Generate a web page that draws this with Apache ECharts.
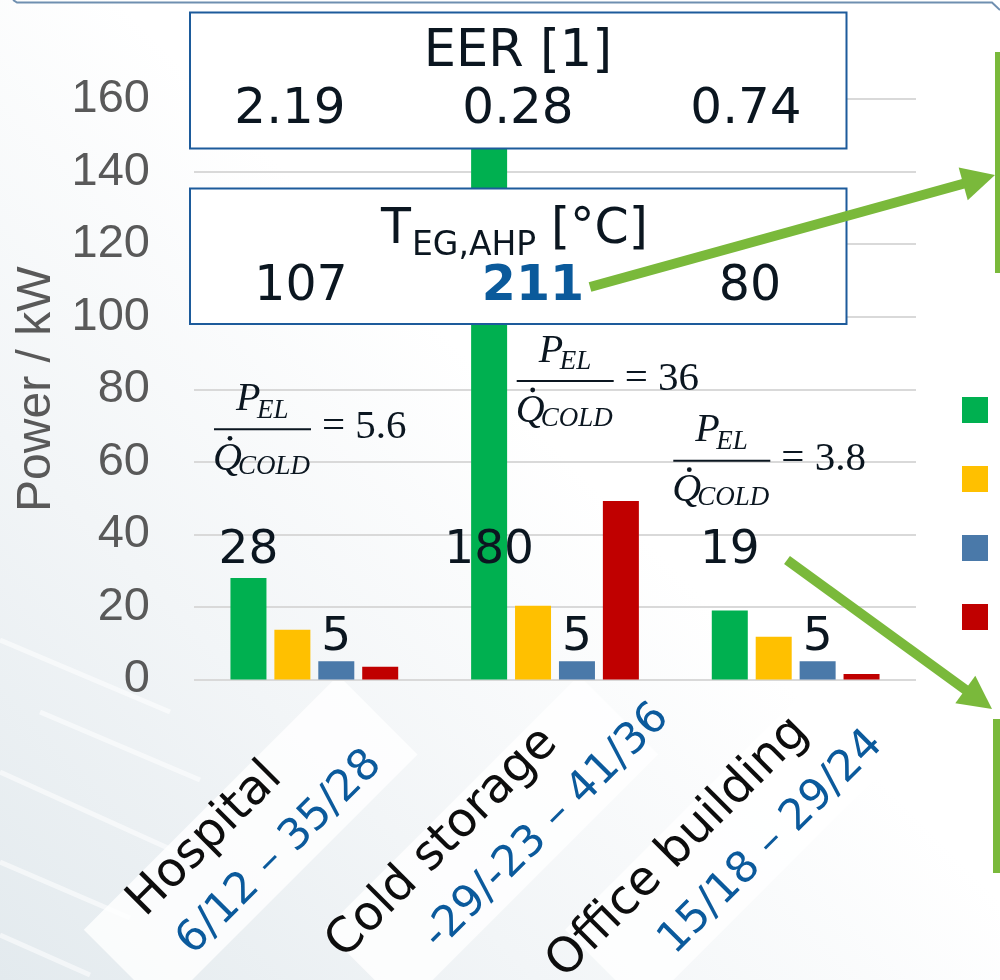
<!DOCTYPE html>
<html>
<head>
<meta charset="utf-8">
<title>Power per application</title>
<script src="https://cdn.jsdelivr.net/npm/echarts@6/dist/echarts.min.js"></script>
<style>
  html, body { margin: 0; padding: 0; background: #ffffff; }
  #chart { width: 1000px; height: 980px; }
</style>
</head>
<body>
<div id="chart"></div>
<script>
// ---- data -------------------------------------------------------------
const categories = ['Hospital', 'Cold storage', 'Office building'];
const temperatureLabels = ['6/12 – 35/28', '-29/-23 – 41/36', '15/18 – 29/24'];
const seriesNames = ['Q̇ COLD', 'Q̇ HEAT', 'P EL', 'Q̇ DRIVE'];
const coldPower = [28, 180, 19];
const heatPower = [13.7, 20.3, 11.8];
const electricPower = [5, 5, 5];
const drivePower = [3.5, 49.2, 1.5];
const eerValues = ['2.19', '0.28', '0.74'];
const exhaustTemps = ['107', '211', '80'];
const electricRatios = ['5.6', '36', '3.8'];
const yMin = 0, yMax = 160, yStep = 20;

// ---- styling ------------------------------------------------------------
const COLORS = ['#00b050', '#ffc000', '#4a79a9', '#c00000'];
const BOX_BLUE = '#1d5b9b';
const ARROW_GREEN = '#7ab93b';
const INK = '#0b1620';
const AXIS_GREY = '#595959';
const COLD_LABEL_LEVEL = 35.4;       // height at which the cooling values are written
const labelShift = [[146, 66], [97, 0], [82, 38]];   // right padding of the two label lines

const chart = echarts.init(document.getElementById('chart'), null, { renderer: 'canvas' });

const rich = {};
categories.forEach((c, i) => {
  rich['n' + i] = { fontFamily: 'DejaVu Sans', fontSize: 48, color: '#0d0d0d', lineHeight: 62,
                    align: 'right', padding: [0, labelShift[i][0], 0, 0] };
  rich['t' + i] = { fontFamily: 'DejaVu Sans', fontSize: 43, color: '#0b5a9c', lineHeight: 62,
                    align: 'right', padding: [0, labelShift[i][1], 0, 0] };
});

function barSeries(name, values, color, extra) {
  return Object.assign({
    name: name, type: 'bar', data: values, barWidth: 36, barGap: '22%', clip: true,
    itemStyle: { color: color }
  }, extra || {});
}

const option = {
  animation: false,
  backgroundColor: 'transparent',
  textStyle: { fontFamily: 'DejaVu Sans' },
  grid: { left: 194, right: 84, top: 99, bottom: 300.5, containLabel: false, outerBoundsMode: 'none' },
  legend: {
    orient: 'vertical', left: 962, top: 397, padding: 0,
    itemWidth: 26, itemHeight: 26, itemGap: 43, icon: 'rect',
    textStyle: { fontSize: 16, color: '#333', padding: [0, 0, 0, 40] },
    data: seriesNames
  },
  xAxis: {
    type: 'category', data: categories,
    axisLine: { show: false }, axisTick: { show: false }, splitLine: { show: false },
    axisLabel: {
      interval: 0, rotate: 45, align: 'right', verticalAlign: 'top',
      margin: -76, padding: [59, 0, 0, 0],
      formatter: (v, i) => '{n' + i + '|' + v + '}\n{t' + i + '|' + temperatureLabels[i] + '}',
      rich: rich
    }
  },
  yAxis: {
    type: 'value', min: yMin, max: yMax, interval: yStep,
    name: 'Power / kW', nameLocation: 'middle', nameGap: 133, nameRotate: 90,
    nameMoveOverlap: false,
    nameTextStyle: { fontFamily: 'Liberation Sans', fontSize: 48, color: AXIS_GREY },
    axisLine: { show: false }, axisTick: { show: false },
    axisLabel: { fontFamily: 'Liberation Sans', fontSize: 47, color: AXIS_GREY, margin: 44 },
    splitLine: { lineStyle: { color: '#d9d9d9', width: 2 } }
  },
  series: [
    barSeries(seriesNames[0], coldPower, COLORS[0], {
      markPoint: {
        symbol: 'rect', symbolSize: 1, silent: true,
        itemStyle: { color: 'rgba(0,0,0,0)' },
        label: { show: true, position: 'inside', formatter: '{c}',
                 fontFamily: 'DejaVu Sans', fontSize: 47, color: INK },
        data: coldPower.map((v, i) => ({ coord: [categories[i], COLD_LABEL_LEVEL], value: v }))
      }
    }),
    barSeries(seriesNames[1], heatPower, COLORS[1]),
    barSeries(seriesNames[2], electricPower, COLORS[2], {
      label: { show: true, position: 'top', distance: 0, formatter: '{c}',
               fontFamily: 'DejaVu Sans', fontSize: 47, color: INK }
    }),
    barSeries(seriesNames[3], drivePower, COLORS[3])
  ]
};

chart.setOption(option);

// ---- annotations ------------------------------------------------------------
function text(x, y, str, size, extra) {
  return {
    type: 'text', x: x, y: y, z: 60, silent: true,
    style: Object.assign({
      text: str, fontSize: size, fontFamily: 'DejaVu Sans', fill: INK,
      align: 'center', verticalAlign: 'middle'
    }, extra || {})
  };
}

function serifText(x, y, str, size, italic) {
  return text(x, y, str, size, { fontFamily: 'Liberation Serif', fontStyle: italic ? 'italic' : 'normal', align: 'left' });
}

// P_EL / Q̇_COLD = value, drawn around the fraction bar starting at (L, Y)
function fraction(L, Y, value) {
  return [
    { type: 'line', z: 60, silent: true, shape: { x1: L, y1: Y, x2: L + 97, y2: Y },
      style: { stroke: INK, lineWidth: 2 } },
    serifText(L + 22, Y - 29.8, 'P', 40, true),
    serifText(L + 43, Y - 18.8, 'EL', 27, true),
    serifText(L - 1, Y + 30.2, 'Q', 40, true),
    { type: 'circle', z: 60, silent: true, shape: { cx: L + 16, cy: Y + 9, r: 2.4 }, style: { fill: INK } },
    serifText(L + 24, Y + 37.7, 'COLD', 27, true),
    serifText(L + 108, Y - 1.8, '= ' + value, 41, false)
  ];
}

function arrow(x1, y1, x2, y2) {
  const headLen = 33, headHalf = 17;
  const dx = x2 - x1, dy = y2 - y1, len = Math.hypot(dx, dy);
  const ux = dx / len, uy = dy / len, nx = -uy, ny = ux;
  const bx = x2 - ux * headLen, by = y2 - uy * headLen;
  return [
    { type: 'line', z: 70, silent: true, shape: { x1: x1, y1: y1, x2: bx + ux * 2, y2: by + uy * 2 },
      style: { stroke: ARROW_GREEN, lineWidth: 10 } },
    { type: 'polygon', z: 70, silent: true,
      shape: { points: [[x2, y2], [bx + nx * headHalf, by + ny * headHalf], [bx - nx * headHalf, by - ny * headHalf]] },
      style: { fill: ARROW_GREEN } }
  ];
}

function box(x, y, w, h) {
  return { type: 'rect', z: 55, silent: true, shape: { x: x, y: y, width: w, height: h },
           style: { fill: '#ffffff', stroke: BOX_BLUE, lineWidth: 2 } };
}

// pale backdrop that fades towards the upper right, with light streaks
const backdrop = [
  { type: 'rect', z: -10, silent: true, shape: { x: 0, y: 0, width: 1000, height: 980 },
    style: { fill: new echarts.graphic.LinearGradient(0, 1, 0.55, 0.45, [
      { offset: 0, color: '#e3eaee' }, { offset: 0.5, color: '#f2f5f7' }, { offset: 1, color: '#ffffff' }]) } }
];
[[0, 772, 190, 858], [0, 862, 130, 918], [0, 640, 170, 712], [40, 712, 200, 780], [0, 935, 90, 975]]
  .forEach(p => backdrop.push({ type: 'line', z: -9, silent: true,
    shape: { x1: p[0], y1: p[1], x2: p[2], y2: p[3] },
    style: { stroke: 'rgba(255,255,255,0.55)', lineWidth: 5 } }));

// white bands under the rotated category labels
const baseY = chart.convertToPixel({ yAxisIndex: 0 }, 0);
categories.forEach((c, i) => {
  const tx = chart.convertToPixel({ xAxisIndex: 0 }, c);
  const pt = (u, v) => [tx + 0.7071 * (u + v), baseY + 0.7071 * (v - u)];
  backdrop.push({ type: 'polygon', z: -8, silent: true,
    shape: { points: [pt(-340, 14), pt(20, 14), pt(20, 126), pt(-340, 126)] },
    style: { fill: 'rgba(255,255,255,0.8)' } });
});

const elements = backdrop.concat([
  // frame edge along the top
  { type: 'polyline', z: 40, silent: true, shape: { points: [[13, 0], [17, 2.5], [992, 2.5], [1000, 10]] },
    style: { stroke: '#6f8fb0', lineWidth: 2, fill: null } },
  // EER box
  box(190, 12.5, 656.5, 136),
  text(518, 53, 'EER [1]', 51),
  text(290, 110, eerValues[0], 50),
  text(518, 110, eerValues[1], 50),
  text(746, 110, eerValues[2], 50),
  // exhaust gas temperature box
  box(190, 188.5, 656.5, 135.5),
  text(381, 230, 'T', 49, { align: 'left' }),
  text(412, 246, 'EG,AHP', 33, { align: 'left' }),
  text(551, 230, '[°C]', 49, { align: 'left' }),
  text(301, 287, exhaustTemps[0], 49),
  text(533, 287, exhaustTemps[1], 49, { fontWeight: 'bold', fill: '#0b5a9b' }),
  text(750, 287, exhaustTemps[2], 49),
  // green frames at the right edge
  { type: 'rect', z: 40, silent: true, shape: { x: 995, y: 52, width: 8, height: 221 }, style: { fill: ARROW_GREEN } },
  { type: 'rect', z: 40, silent: true, shape: { x: 993, y: 719, width: 10, height: 154 }, style: { fill: ARROW_GREEN } }
])
  .concat(fraction(214, 429.3, electricRatios[0]))
  .concat(fraction(516.7, 381, electricRatios[1]))
  .concat(fraction(673.3, 460.7, electricRatios[2]))
  .concat(arrow(590, 287, 995, 175))
  .concat(arrow(787, 560, 992, 709));

chart.setOption({ graphic: { elements: elements } });
</script>
</body>
</html>
